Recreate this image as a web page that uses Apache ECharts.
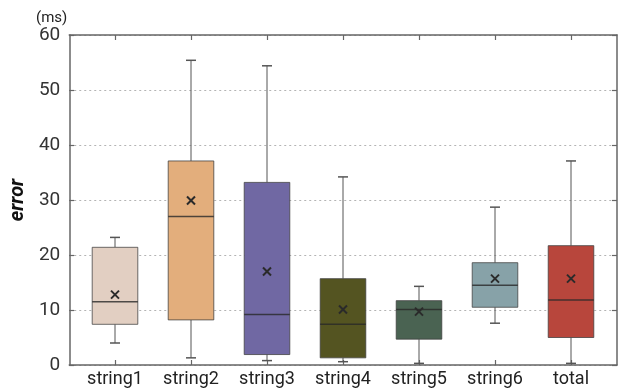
<!DOCTYPE html>
<html>
<head>
<meta charset="utf-8">
<script src="https://cdn.jsdelivr.net/npm/echarts@6/dist/echarts.min.js"></script>
<style>html,body{margin:0;padding:0;background:#fff}#c{width:619px;height:390px}</style>
</head>
<body>
<div id="c"></div>
<script>
const categories = ['string1','string2','string3','string4','string5','string6','total'];
const whiskerLow  = [4.0, 1.3, 0.8, 0.6, 0.3, 7.6, 0.3];
const q1          = [7.4, 8.2, 1.9, 1.3, 4.7, 10.5, 5.0];
const median      = [11.5, 27.0, 9.2, 7.4, 10.1, 14.5, 11.8];
const q3          = [21.4, 37.1, 33.2, 15.7, 11.7, 18.6, 21.7];
const whiskerHigh = [23.2, 55.4, 54.4, 34.2, 14.3, 28.7, 37.1];
const meanVals    = [12.8, 29.9, 17.0, 10.1, 9.7, 15.7, 15.7];
const boxColors   = ['#e2cfc2','#e3ae7c','#7068a3','#545421','#4a6352','#87a2a8','#b8463c'];
const yTicks = [0,10,20,30,40,50,60];

const chart = echarts.init(document.getElementById('c'), null, {renderer:'canvas'});
const FONT = 'Roboto';
const data = categories.map((c,i)=>[i, whiskerLow[i], q1[i], median[i], q3[i], whiskerHigh[i], meanVals[i]]);

function renderItem(params, api){
  const i = api.value(0);
  const bw = api.size([1,0])[0]*0.6;
  const cap = 10;
  const pLow = api.coord([i, api.value(1)]);
  const pQ1 = api.coord([i, api.value(2)]);
  const pMed = api.coord([i, api.value(3)]);
  const pQ3 = api.coord([i, api.value(4)]);
  const pHigh = api.coord([i, api.value(5)]);
  const pMean = api.coord([i, api.value(6)]);
  const x = pQ1[0];
  const lineStyle = {stroke:'#555', lineWidth:1};
  const m = 4;
  return {type:'group', children:[
    {type:'line', shape:{x1:x,y1:pHigh[1],x2:x,y2:pQ3[1]}, style:lineStyle},
    {type:'line', shape:{x1:x,y1:pQ1[1],x2:x,y2:pLow[1]}, style:lineStyle},
    {type:'line', shape:{x1:x-cap/2,y1:pHigh[1],x2:x+cap/2,y2:pHigh[1]}, style:{stroke:'#555',lineWidth:1.5}},
    {type:'line', shape:{x1:x-cap/2,y1:pLow[1],x2:x+cap/2,y2:pLow[1]}, style:{stroke:'#555',lineWidth:1.5}},
    {type:'rect', shape:{x:x-bw/2, y:pQ3[1], width:bw, height:pQ1[1]-pQ3[1]},
      style:{fill:boxColors[i], stroke:'rgba(60,60,60,0.75)', lineWidth:1}},
    {type:'line', shape:{x1:x-bw/2,y1:pMed[1],x2:x+bw/2,y2:pMed[1]}, style:{stroke:'rgba(40,40,40,0.8)',lineWidth:1.5}},
    {type:'line', shape:{x1:pMean[0]-m,y1:pMean[1]-m,x2:pMean[0]+m,y2:pMean[1]+m}, style:{stroke:'#2a2a2a',lineWidth:2}},
    {type:'line', shape:{x1:pMean[0]-m,y1:pMean[1]+m,x2:pMean[0]+m,y2:pMean[1]-m}, style:{stroke:'#2a2a2a',lineWidth:2}}
  ]};
}

const axisLineStyle = {color:'#666', width:1.5};
chart.setOption({
  animation:false,
  textStyle:{fontFamily:FONT},
  title:{text:'(ms)', left:31, top:6, textStyle:{fontFamily:FONT, fontSize:15, fontWeight:'normal', color:'#222'}},
  grid:[
    {left:69, right:2, top:35, bottom:25},
    {left:77, width:532, top:35, bottom:25}
  ],
  xAxis:[
    {gridIndex:0, type:'value', min:0, max:1, position:'bottom', axisLine:{show:true, onZero:false, lineStyle:axisLineStyle}, axisTick:{show:false}, axisLabel:{show:false}, splitLine:{show:false}},
    {gridIndex:0, type:'value', min:0, max:1, position:'top', axisLine:{show:true, onZero:false, lineStyle:axisLineStyle}, axisTick:{show:false}, axisLabel:{show:false}, splitLine:{show:false}},
    {gridIndex:1, type:'category', data:categories, position:'bottom', axisLine:{show:false, onZero:false},
      axisTick:{show:true, inside:true, alignWithLabel:true, length:5, lineStyle:{color:'#666', width:1.2}},
      axisLabel:{color:'#222', fontSize:18, fontFamily:FONT, margin:5}},
    {gridIndex:1, type:'category', data:categories, position:'top', axisLine:{show:false, onZero:false},
      axisTick:{show:true, inside:true, alignWithLabel:true, length:5, lineStyle:{color:'#666', width:1.2}},
      axisLabel:{show:false}}
  ],
  yAxis:[
    {gridIndex:0, type:'value', min:0, max:60, interval:10, position:'left',
      name:'error', nameLocation:'middle', nameRotate:90, nameGap:33,
      nameTextStyle:{fontFamily:FONT, fontSize:20, fontWeight:'bold', fontStyle:'italic', color:'#111'},
      axisLine:{show:true, onZero:false, lineStyle:axisLineStyle},
      axisTick:{show:true, inside:true, length:5, lineStyle:{color:'#666', width:1.2}},
      axisLabel:{color:'#333', fontSize:19, fontFamily:FONT, margin:9},
      splitLine:{show:true, lineStyle:{color:'#b4b4b4', type:[2,3], width:1}}},
    {gridIndex:0, type:'value', min:0, max:60, interval:10, position:'right',
      axisLine:{show:true, onZero:false, lineStyle:axisLineStyle},
      axisTick:{show:true, inside:true, length:5, lineStyle:{color:'#666', width:1.2}},
      axisLabel:{show:false}, splitLine:{show:false}},
    {gridIndex:1, type:'value', min:0, max:60, show:false}
  ],
  series:[{
    type:'custom', xAxisIndex:2, yAxisIndex:2, renderItem:renderItem,
    encode:{x:0, y:[1,2,3,4,5,6]}, data:data, z:5
  }]
});
</script>
</body>
</html>
